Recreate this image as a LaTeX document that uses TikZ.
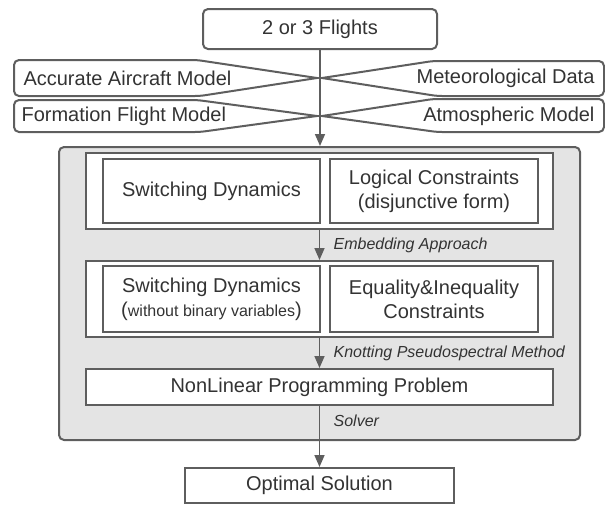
\documentclass[tikz,border=0pt]{standalone}
\usepackage{fontspec}
\setmainfont{Liberation Sans}
\usepackage{xcolor}
\usepackage{tikz}
\usetikzlibrary{arrows.meta, positioning}
\definecolor{linegray}{RGB}{94, 94, 94}
\definecolor{panelgray}{RGB}{228, 228, 228}
\definecolor{textdark}{RGB}{51, 51, 51}

\begin{document}
\begin{tikzpicture}[x=1pt, y=-1pt,
    every node/.style={text=textdark, font=\fontsize{20}{24}\selectfont},
    box/.style={draw=linegray, line width=2pt, fill=white, align=center, inner sep=0pt},
    inshape/.style={draw=linegray, line width=2pt},
    flow/.style={draw=linegray, line width=1.6pt, -{Triangle[length=12pt, width=10pt]}},
    note/.style={anchor=west, xshift=10pt, font=\fontsize{16}{19}\selectfont\itshape}]

    \useasboundingbox (0,0) rectangle (605,504);

    % inputs
    \node[box, rounded corners=5pt, minimum width=234pt, minimum height=40pt] (flights) at (320,29) {2 or 3 Flights};
    \draw[inshape] (317,78) [rounded corners=5pt] -- (200,96) -- (14,96) -- (14,60) -- (197,60) [sharp corners] -- cycle;
    \draw[inshape] (322,78) [rounded corners=5pt] -- (433,61) -- (604,61) -- (604,96) -- (437,96) [sharp corners] -- cycle;
    \draw[inshape] (317,116) [rounded corners=5pt] -- (200,132) -- (14,132) -- (14,100) -- (197,100) [sharp corners] -- cycle;
    \draw[inshape] (322,116) [rounded corners=5pt] -- (433,99) -- (604,99) -- (604,132) -- (437,132) [sharp corners] -- cycle;
    \node[anchor=west] (aircraft) at (20,78) {Accurate Aircraft Model};
    \node[anchor=east] (meteo) at (598,78) {Meteorological Data};
    \node[anchor=west] (formation) at (18,116) {Formation Flight Model};
    \node[anchor=east] (atmos) at (598,116) {Atmospheric Model};

    % optimisation block
    \node[box, fill=panelgray, rounded corners=5pt, minimum width=521pt, minimum height=293pt] (panel) at (319.5,293.5) {};
    \node[box, minimum width=467pt, minimum height=76pt] (hybrid) at (319.5,191) {};
    \node[box, minimum width=217pt, minimum height=64pt] (switch) at (211.5,191) {Switching Dynamics};
    \node[box, minimum width=208pt, minimum height=64pt, right=8pt of switch] (logic) {Logical Constraints\\(disjunctive form)};
    \node[box, minimum width=467pt, minimum height=76pt] (smooth) at (319.5,299) {};
    \node[box, minimum width=217pt, minimum height=66pt] (switchnb) at (211.5,299) {Switching Dynamics\\({\fontsize{16}{24}\selectfont without binary variables})};
    \node[box, minimum width=208pt, minimum height=66pt, right=8pt of switchnb] (equality) {Equality\&Inequality\\Constraints};
    \node[box, minimum width=467pt, minimum height=36pt] (nlp) at (319.5,387) {NonLinear Programming Problem};

    % result
    \node[box, minimum width=269pt, minimum height=35pt] (optimal) at (319.5,485.5) {Optimal Solution};

    \draw[flow] (flights.south) -- (flights.south |- panel.north);
    \draw[flow] (hybrid.south) -- node[note] {Embedding Approach} (smooth.north);
    \draw[flow] (smooth.south) -- node[note] {Knotting Pseudospectral Method} (nlp.north);
    \draw[flow] (nlp.south) -- node[note, pos=0.25] {Solver} (optimal.north);
\end{tikzpicture}
\end{document}
